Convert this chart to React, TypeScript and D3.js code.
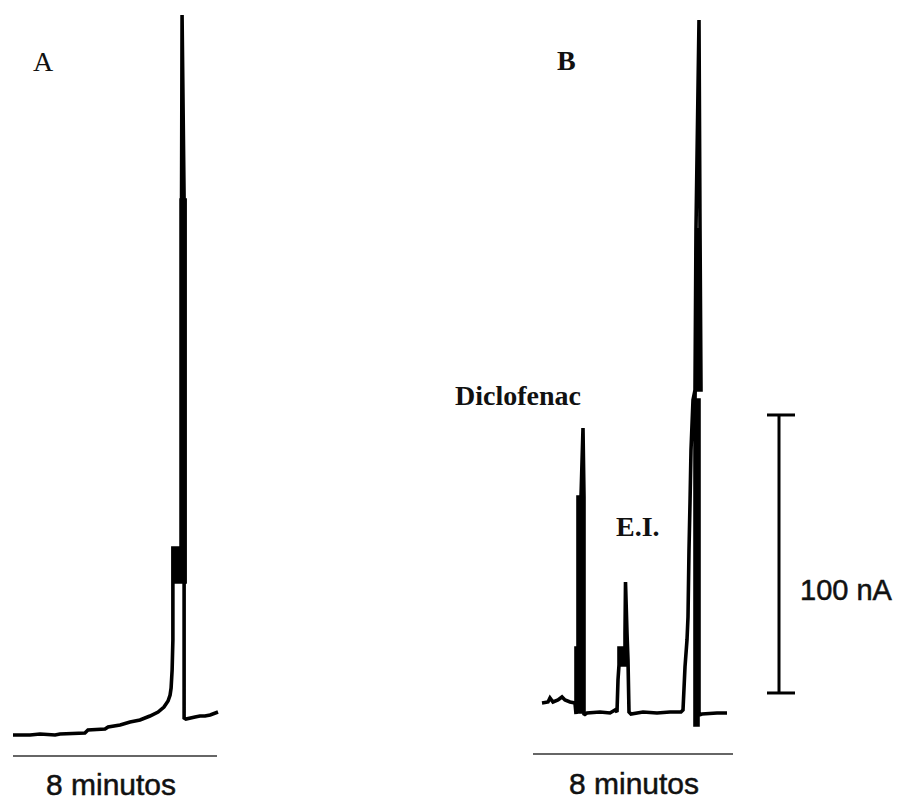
import React from "react";
import * as d3 from "d3";

// Panel A trace: [time (min), current (nA)]
const traceA: [number, number][] = [
  [0, 0], [0.67, 0], [1.06, 0.36], [1.65, 0], [1.84, 0.36], [2.82, 0.72], [2.94, 1.8],
  [3.61, 2.16], [3.73, 2.88], [4.2, 3.6], [4.59, 4.68], [4.98, 5.4], [5.37, 6.83],
  [5.69, 8.27], [5.92, 10.07], [6.08, 12.23], [6.16, 14.39], [6.2, 16.91], [6.24, 23.38],
  [6.27, 34.17], [6.27, 55.04], [6.27, 67.27], [6.39, 67.27], [6.39, 55.04], [6.51, 55.04],
  [6.51, 67.27], [6.63, 67.27], [6.63, 55.04], [6.75, 55.04], [6.75, 67.27], [6.75, 192.45],
  [6.59, 192.45], [6.59, 67.27], [6.61, 192.45], [6.63, 259.0], [6.71, 192.45], [6.71, 67.27],
  [6.71, 6.12], [6.78, 5.76], [7.14, 6.47], [7.33, 6.83], [7.53, 6.83], [7.73, 7.19], [8.04, 8.27],
];

// Panel B trace: [time (min), current (nA)]
const traceB: [number, number][] = [
  [0.36, 3.6], [0.6, 3.96], [0.68, 5.4], [0.8, 3.96], [1.0, 4.68], [1.16, 5.76], [1.28, 4.68],
  [1.48, 3.96], [1.68, 3.6],
  // Diclofenac
  [1.72, -0.36], [1.72, 23.38], [1.8, 23.38], [1.8, 77.7], [1.84, 77.7], [1.84, 0.36],
  [1.92, 0.36], [1.92, 77.7], [2.0, 102.52], [2.04, 77.7], [2.04, -0.72], [2.16, 0],
  [2.68, 0.36], [3.08, 0], [3.28, 1.08],
  // E.I.
  [3.36, 0.36], [3.4, 11.87], [3.44, 17.27], [3.44, 23.38], [3.56, 23.38], [3.56, 17.27],
  [3.68, 17.27], [3.68, 28.78], [3.7, 47.12], [3.76, 28.78], [3.8, 19.06], [3.84, 0.36],
  [3.92, -0.36],
  [4.4, 0.36], [4.96, 0], [5.48, 0.36], [5.92, 0.36],
  // main peak
  [6.0, 1.08], [6.08, 16.55], [6.16, 26.26], [6.2, 34.53], [6.24, 58.63], [6.28, 75.54],
  [6.32, 94.6], [6.4, 112.59], [6.48, 116.19], [6.52, 174.46], [6.64, 249.28], [6.68, 174.46],
  [6.72, 116.19], [6.6, 116.19], [6.6, 174.46], [6.48, 112.59], [6.48, -4.32], [6.6, -4.32],
  [6.6, 112.59], [6.64, 112.59], [6.64, -0.72], [6.76, -0.36], [7.36, 0], [7.76, 0],
];

const panelLabels = ["A", "B"];
const timeBarMinutes = 8;
const timeBarLabel = "8 minutos";
const peakLabels = ["Diclofenac", "E.I."];
const scaleBarValue = 100; // nA
const scaleBarBase = 7.2; // nA, bottom of scale bar on panel B axis
const scaleBarTime = 9.84; // min, position of scale bar on panel B axis
const scaleBarLabel = "100 nA";

const PX_PER_NA = 2.78;

export default function App() {
  const xA = d3.scaleLinear().domain([0, 8]).range([13, 217]);
  const xB = d3.scaleLinear().domain([0, 8]).range([533, 733]);
  const yA = d3.scaleLinear().domain([0, 100]).range([735, 735 - 100 * PX_PER_NA]);
  const yB = d3.scaleLinear().domain([0, 100]).range([713, 713 - 100 * PX_PER_NA]);

  const lineA = d3.line<[number, number]>().x((d) => xA(d[0])).y((d) => yA(d[1]));
  const lineB = d3.line<[number, number]>().x((d) => xB(d[0])).y((d) => yB(d[1]));

  const sbX = xB(scaleBarTime);
  const sbTop = yB(scaleBarBase + scaleBarValue);
  const sbBot = yB(scaleBarBase);

  const sans = "'Liberation Sans', Arial, sans-serif";
  const serif = "'Liberation Serif', 'Times New Roman', serif";

  return (
    <svg
      width={900}
      height={802}
      style={{ position: "absolute", left: 0, top: 0, background: "#fff" }}
    >
      <rect width={900} height={802} fill="#fff" />
      {/* Panel labels */}
      <text x={33} y={71} fontFamily={serif} fontSize={28} fill="#111">
        {panelLabels[0]}
      </text>
      <text x={557} y={70} fontFamily={serif} fontSize={28} fontWeight="bold" fill="#111">
        {panelLabels[1]}
      </text>

      {/* Traces */}
      <path d={lineA(traceA) || ""} fill="none" stroke="#000" strokeWidth={3.6} strokeLinejoin="miter" strokeMiterlimit={2} />
      <path d={lineB(traceB) || ""} fill="none" stroke="#000" strokeWidth={3.6} strokeLinejoin="miter" strokeMiterlimit={2} />

      {/* Peak labels */}
      <text x={455} y={405} fontFamily={serif} fontSize={28} fontWeight="bold" fill="#111">
        {peakLabels[0]}
      </text>
      <text x={616} y={536} fontFamily={serif} fontSize={28} fontWeight="bold" fill="#111">
        {peakLabels[1]}
      </text>

      {/* Time bars */}
      <line x1={xA(0)} x2={xA(timeBarMinutes)} y1={756} y2={756} stroke="#333" strokeWidth={1.6} />
      <line x1={xB(0)} x2={xB(timeBarMinutes)} y1={754} y2={754} stroke="#333" strokeWidth={1.6} />
      <text x={(xA(0) + xA(timeBarMinutes)) / 2 - 4} y={795} textAnchor="middle" fontFamily={sans} fontSize={30} fill="#111" stroke="#111" strokeWidth={0.5}>
        {timeBarLabel}
      </text>
      <text x={(xB(0) + xB(timeBarMinutes)) / 2 + 1} y={794} textAnchor="middle" fontFamily={sans} fontSize={30} fill="#111" stroke="#111" strokeWidth={0.5}>
        {timeBarLabel}
      </text>

      {/* Scale bar */}
      <line x1={sbX} x2={sbX} y1={sbTop} y2={sbBot} stroke="#000" strokeWidth={3} />
      <line x1={sbX - 12} x2={sbX + 16} y1={sbTop} y2={sbTop} stroke="#000" strokeWidth={3} />
      <line x1={sbX - 12} x2={sbX + 16} y1={sbBot} y2={sbBot} stroke="#000" strokeWidth={3} />
      <text x={800} y={600} fontFamily={sans} fontSize={29} fill="#111" stroke="#111" strokeWidth={0.5}>
        {scaleBarLabel}
      </text>
    </svg>
  );
}
